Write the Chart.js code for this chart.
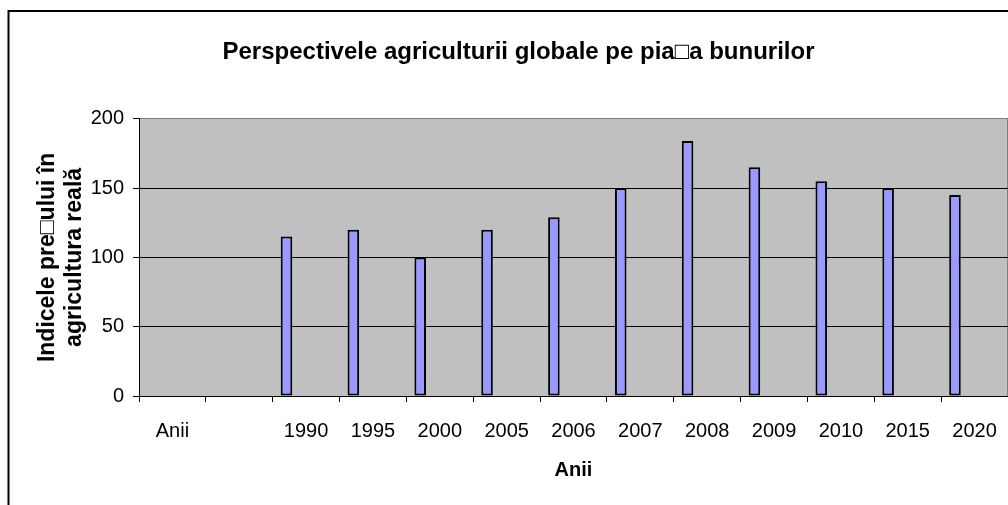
<!DOCTYPE html>
<html>
<head>
<meta charset="utf-8">
<script src="https://cdn.jsdelivr.net/npm/chart.js@4.4.0/dist/chart.umd.min.js"></script>
<style>
  body { margin: 0; background: #fff; }
  canvas { display: block; }
</style>
</head>
<body>
<canvas id="chart" width="1008" height="505"></canvas>
<script>
// date
const years = ['Anii', '', '1990', '1995', '2000', '2005', '2006', '2007', '2008', '2009', '2010', '2015', '2020'];
const priceIndex = [null, null, 115, 120, 100, 120, 129, 150, 184, 165, 155, 150, 145];
const emptySeries = years.map(() => null); // serii goale din Excel, tin bara in stanga categoriei
const yMin = 0;
const yMax = 200;
const yStep = 50;

const chartTitle = 'Perspectivele agriculturii globale pe pia\u25A1a bunurilor';
const yTitle = ['Indicele pre\u25A1ului în', 'agricultura reală'];
const xTitle = 'Anii';

Chart.defaults.font.family = '"Liberation Sans", Arial, sans-serif';
Chart.defaults.color = '#000';

// fundal gri + chenar
const plotFrame = {
    id: 'plotFrame',
    beforeDraw(chart) {
        const { ctx, chartArea: a } = chart;
        ctx.save();
        ctx.fillStyle = '#fff';
        ctx.fillRect(0, 0, chart.width, chart.height);
        ctx.fillStyle = '#C0C0C0';
        ctx.fillRect(a.left, a.top, a.right - a.left, a.bottom - a.top);
        ctx.strokeStyle = '#000';
        ctx.lineWidth = 2;
        ctx.beginPath();
        ctx.moveTo(8.5, chart.height);
        ctx.lineTo(8.5, 11);
        ctx.lineTo(chart.width, 11);
        ctx.stroke();
        ctx.strokeStyle = '#808080';
        ctx.lineWidth = 1;
        ctx.beginPath();
        ctx.moveTo(a.right - 0.5, a.top);
        ctx.lineTo(a.right - 0.5, a.bottom);
        ctx.stroke();
        ctx.restore();
    }
};

const barStyle = {
    backgroundColor: '#9999FF',
    borderColor: '#000',
    borderWidth: 2,
    borderSkipped: false,
    categoryPercentage: 0.88,
    barPercentage: 0.59
};

const ctx = document.getElementById('chart').getContext('2d');
const chart = new Chart(ctx, {
    type: 'bar',
    data: {
        labels: years,
        datasets: [
            { label: 'Indice', data: priceIndex, ...barStyle },
            { label: 's2', data: emptySeries, ...barStyle },
            { label: 's3', data: emptySeries, ...barStyle }
        ]
    },
    options: {
        responsive: false,
        animation: false,
        layout: { padding: { left: 29, right: 0, top: 0, bottom: 0 } },
        plugins: {
            legend: { display: false },
            tooltip: { enabled: false },
            title: {
                display: true,
                text: chartTitle,
                color: '#000',
                font: { size: 24, weight: 'bold' },
                padding: { top: 38, bottom: 52 }
            }
        },
        scales: {
            x: {
                grid: {
                    offset: true,
                    drawOnChartArea: false,
                    drawTicks: true,
                    tickLength: 6,
                    tickColor: '#000',
                    color: '#000'
                },
                border: { color: '#000', width: 1 },
                ticks: {
                    color: '#000',
                    font: { size: 20 },
                    padding: 17,
                    maxRotation: 0,
                    autoSkip: false
                },
                title: {
                    display: true,
                    text: xTitle,
                    color: '#000',
                    font: { size: 20, weight: 'bold' },
                    padding: { top: 0, bottom: 23 }
                },
                afterFit(scale) {
                    scale.height = 109;
                    scale.paddingLeft = 0;
                    scale.paddingRight = 0;
                }
            },
            y: {
                min: yMin,
                max: yMax,
                ticks: {
                    stepSize: yStep,
                    color: '#000',
                    font: { size: 20 },
                    padding: 9
                },
                grid: {
                    color: c => (c.tick && c.tick.value === yMax) ? '#808080' : '#000',
                    tickColor: '#000',
                    tickLength: 6,
                    lineWidth: 1
                },
                border: { color: '#000', width: 1 },
                title: {
                    display: true,
                    text: yTitle,
                    color: '#000',
                    font: { size: 23, weight: 'bold', lineHeight: 1.17 },
                    padding: { top: 5, bottom: 0 }
                },
                afterFit(scale) { scale.width = 110; }
            }
        }
    },
    plugins: [plotFrame]
});
</script>
</body>
</html>
